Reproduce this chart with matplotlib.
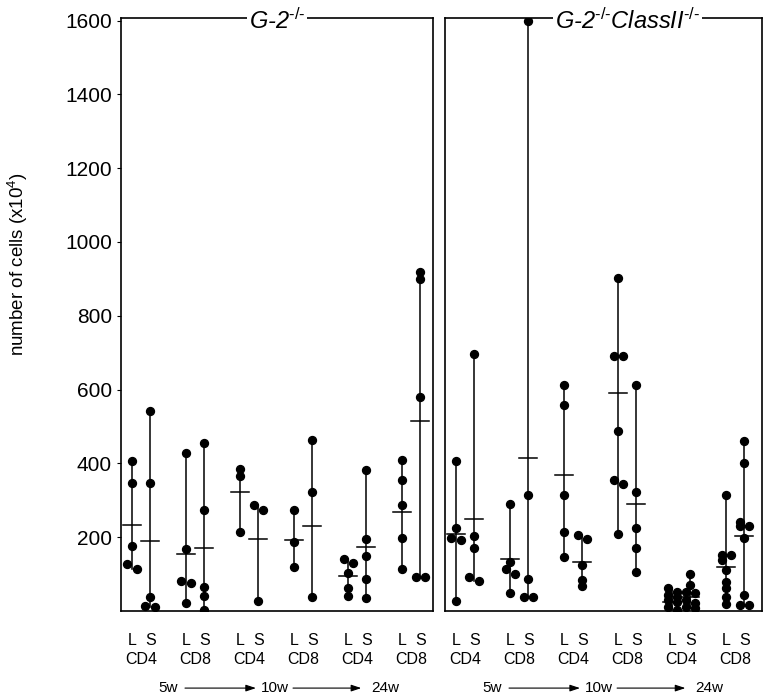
import numpy as np
import matplotlib.pyplot as plt

plt.rcParams['font.family'] = ['Liberation Sans', 'DejaVu Sans']
plt.rcParams['mathtext.fontset'] = 'custom'
plt.rcParams['mathtext.rm'] = 'Liberation Sans'
plt.rcParams['mathtext.it'] = 'Liberation Sans:italic'

# cell counts (x10^4) per mouse, lymph node (L) and spleen (S)
panel_titles = ['G-2$^{\\mathit{\u2010/\u2010}}$',
                'G-2$^{\\mathit{\u2010/\u2010}}$ClassII$^{\\mathit{\u2010/\u2010}}$']
pair_labels = ['CD4', 'CD8', 'CD4', 'CD8', 'CD4', 'CD8']
time_labels = ['5w', '10w', '24w']

g2_L = [[407, 346, 177, 128, 115], [427, 167, 82, 75, 23], [386, 367, 214],
        [273, 188, 120], [142, 129, 102, 63, 42], [410, 355, 287, 199, 115]]
g2_S = [[543, 346, 37, 14, 10], [455, 274, 64, 42, 3], [286, 273, 28],
        [464, 323, 38], [383, 196, 150, 87, 34], [920, 900, 579, 91, 91]]
g2_L_mean = [232, 155, 322, 193, 95, 267]
g2_S_mean = [190, 170, 196, 231, 173, 516]

g2c_L = [[407, 225, 197, 192, 28], [290, 133, 115, 100, 48], [613, 559, 315, 213, 145],
         [902, 691, 691, 488, 354, 344, 209], [61, 52, 44, 39, 30, 25, 12, 3],
         [315, 153, 153, 139, 111, 79, 61, 39, 19]]
g2c_S = [[696, 202, 172, 92, 81], [1600, 315, 87, 38, 38], [205, 194, 124, 84, 67],
         [613, 323, 224, 171, 107], [100, 70, 52, 48, 30, 21, 12, 7],
         [460, 401, 240, 229, 229, 198, 44, 16, 16]]
g2c_L_mean = [210, 140, 368, 590, 25, 118]
g2c_S_mean = [249, 414, 134, 289, 39, 204]


def dodge(vals, thr=16, d=0.26):
    # spread points that would overlap sideways
    v = np.sort(np.array(vals, dtype=float))[::-1]
    off = np.zeros(len(v))
    i = 0
    while i < len(v):
        j = i
        while j + 1 < len(v) and v[j] - v[j + 1] < thr:
            j += 1
        if j > i:
            for k in range(i, j + 1):
                off[k] = -d if (k - i) % 2 == 0 else d
        i = j + 1
    return v, off


def draw_column(ax, x, vals, mean):
    ax.plot([x, x], [min(vals), max(vals)], color='black', lw=1.1, zorder=2)
    v, off = dodge(vals)
    ax.plot(x + off, v, 'o', color='black', ms=5.7, zorder=3)
    ax.plot([x - 0.5, x + 0.5], [mean, mean], color='black', lw=1.1, zorder=4)


fig = plt.figure(figsize=(7.63, 6.96), dpi=100)
ax1 = fig.add_axes([121 / 763, 85 / 696, 312 / 763, 593 / 696])
ax2 = fig.add_axes([445 / 763, 85 / 696, 317 / 763, 593 / 696])

panels = [(ax1, g2_L, g2_S, g2_L_mean, g2_S_mean, panel_titles[0], 0.5),
          (ax2, g2c_L, g2c_S, g2c_L_mean, g2c_S_mean, panel_titles[1], 0.575)]

xL = np.arange(6) * 3 + 0.62
xS = xL + 1.0

for ax, Ls, Ss, Lm, Sm, title, tx in panels:
    for i in range(6):
        draw_column(ax, xL[i], Ls[i], Lm[i])
        draw_column(ax, xS[i], Ss[i], Sm[i])
    ax.set_ylim(0, 1607)
    ax.set_xticks([])
    for s in ax.spines.values():
        s.set_linewidth(1.2)
    ax.text(tx, 0.995, title, transform=ax.transAxes, ha='center', va='center',
            fontsize=17, style='italic',
            bbox=dict(facecolor='white', edgecolor='none', pad=1.5))
    trans = ax.get_xaxis_transform()
    for i in range(6):
        ax.text(xL[i], -0.05, 'L', transform=trans, ha='center', va='center', fontsize=11.5)
        ax.text(xS[i], -0.05, 'S', transform=trans, ha='center', va='center', fontsize=11.5)
        ax.text((xL[i] + xS[i]) / 2, -0.081, pair_labels[i], transform=trans,
                ha='center', va='center', fontsize=11.5)
    for xt, lab in zip([2.6, 8.55, 14.65], time_labels):
        ax.text(xt, -0.13, lab, transform=trans, ha='center', va='center', fontsize=11)
    for x0, x1 in [(3.4, 7.65), (9.4, 13.5)]:
        ax.annotate('', xy=(x1, -0.13), xytext=(x0, -0.13), xycoords=trans,
                    textcoords=trans, annotation_clip=False,
                    arrowprops=dict(arrowstyle='-|>,head_length=0.6,head_width=0.2',
                                    color='black', lw=0.8))

ax1.set_xlim(0, 17.33)
ax2.set_xlim(0, 17.6)
ax1.set_yticks([200, 400, 600, 800, 1000, 1200, 1400, 1600])
ax1.tick_params(axis='y', labelsize=15, length=3, width=0.8)
ax1.set_ylabel('number of cells (x10$^4$)', fontsize=13.5)
ax1.yaxis.set_label_coords(-0.292, 0.585)
ax2.set_yticks([])

fig.savefig('out.png', dpi=100)
